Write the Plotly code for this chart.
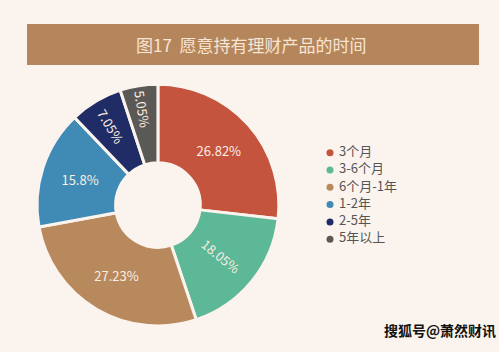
import plotly.graph_objects as go

labels = ["3个月", "3-6个月", "6个月-1年", "1-2年", "2-5年", "5年以上"]
values = [26.82, 18.05, 27.23, 15.8, 7.05, 5.05]
colors = ["#c4543d", "#5cb897", "#b9895e", "#3f8bb5", "#1f2c66", "#5b5955"]
radial_label = [False, True, False, False, True, True]
title_text = "图17  愿意持有理财产品的时间"
watermark = "搜狐号@萧然财讯"

BG = "#fbf3ed"
FONT = "Noto Sans CJK SC"
TXT = "#fbeee2"
pct = [f"{v}%" for v in values]
dom = dict(x=[0.074, 0.559], y=[0.074, 0.761])

fig = go.Figure()
# main donut, horizontal labels
fig.add_trace(go.Pie(
    labels=labels, values=values,
    text=[t if not r else "" for t, r in zip(pct, radial_label)],
    textinfo="text", sort=False, direction="clockwise", rotation=0,
    hole=0.35, showlegend=False,
    marker=dict(colors=colors, line=dict(color=BG, width=3)),
    textfont=dict(family=FONT, size=13, color=TXT),
    insidetextorientation="horizontal",
    domain=dom, hoverinfo="label+percent",
))
# overlay for radial labels
fig.add_trace(go.Pie(
    labels=labels, values=values,
    text=[t if r else "" for t, r in zip(pct, radial_label)],
    textinfo="text", sort=False, direction="clockwise", rotation=0,
    hole=0.35, showlegend=False,
    marker=dict(colors=["rgba(0,0,0,0)"] * len(values), line=dict(width=0)),
    textfont=dict(family=FONT, size=13, color=TXT),
    insidetextorientation="radial",
    domain=dom, hoverinfo="skip",
))
# legend drawn as markers + text
idx = list(range(len(labels)))
fig.add_trace(go.Scatter(
    x=[0] * len(labels), y=idx, mode="markers",
    marker=dict(symbol="circle", size=7, color=colors),
    showlegend=False, hoverinfo="skip", cliponaxis=False,
))
fig.add_trace(go.Scatter(
    x=[9] * len(labels), y=idx, mode="text", text=labels,
    textposition="middle right",
    textfont=dict(family=FONT, size=13, color="#555555"),
    showlegend=False, hoverinfo="skip", cliponaxis=False,
))

# axis mapping for the legend column
px0, step = 152.7, 17.3
ytop = -px0 / step
ybot = ytop + 352 / step
fig.update_layout(
    width=499, height=352,
    margin=dict(l=0, r=0, t=0, b=0),
    paper_bgcolor=BG, plot_bgcolor="rgba(0,0,0,0)",
    xaxis=dict(visible=False, domain=[0, 1], range=[-330, 169], fixedrange=True),
    yaxis=dict(visible=False, domain=[0, 1], range=[ybot, ytop], fixedrange=True),
    showlegend=False,
    shapes=[dict(type="rect", xref="paper", yref="paper",
                 x0=27/499, x1=479/499, y0=1-65/352, y1=1-24/352,
                 fillcolor="#b5865c", line=dict(width=0), layer="below")],
    annotations=[
        dict(text=title_text, xref="paper", yref="paper", x=0.505, y=1-44.5/352,
             xanchor="center", yanchor="middle", showarrow=False,
             font=dict(family=FONT, size=17, color="#f8e5d4")),
        dict(text="<b>" + watermark + "</b>", xref="paper", yref="paper", x=0.998, y=1-330/352,
             xanchor="right", yanchor="middle", showarrow=False,
             font=dict(family=FONT, size=14, color="#111111")),
    ],
)
fig.write_html("out.html")
